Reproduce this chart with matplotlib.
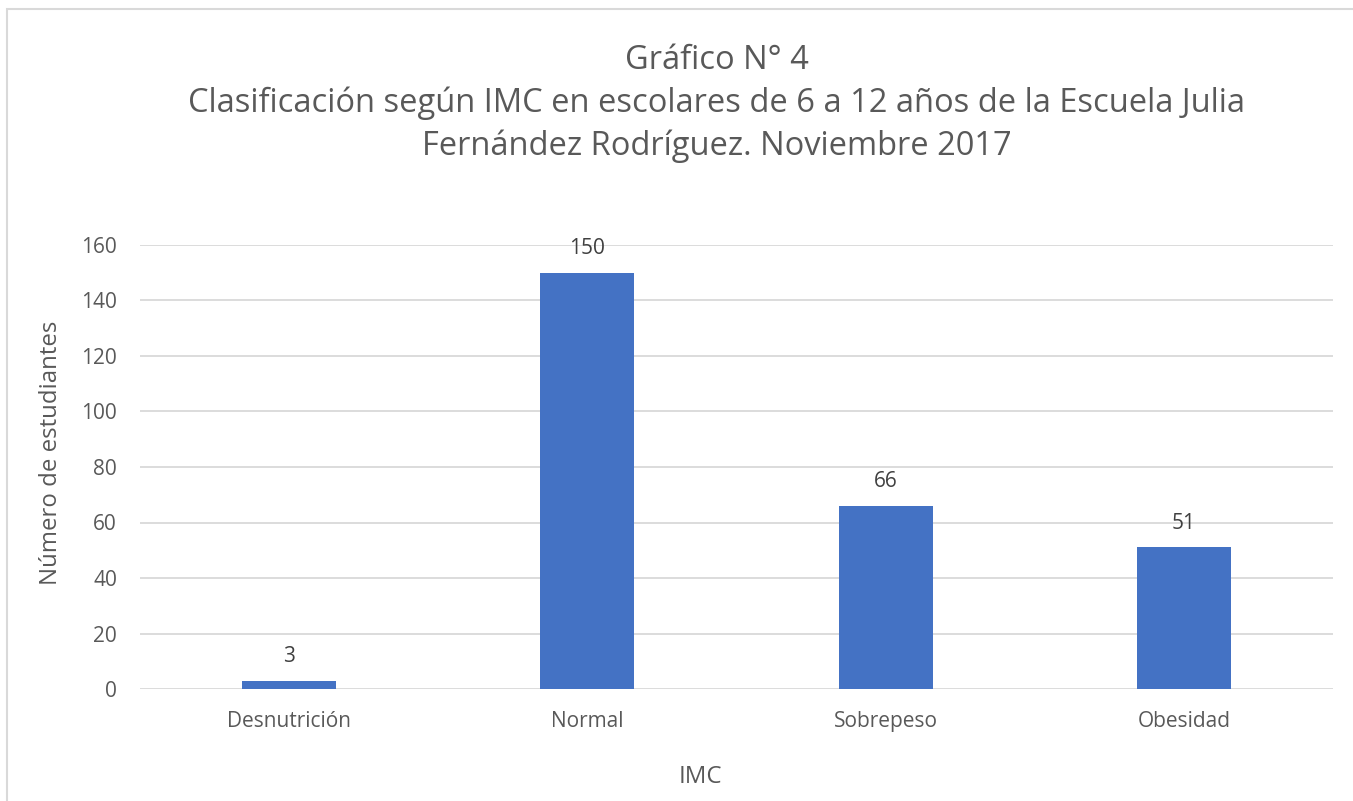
import matplotlib
matplotlib.use("Agg")
import matplotlib.pyplot as plt
from matplotlib.patches import Rectangle

categories = ["Desnutrición", "Normal", "Sobrepeso", "Obesidad"]
values = [3, 150, 66, 51]
yticks = [0, 20, 40, 60, 80, 100, 120, 140, 160]
title_lines = ["Gráfico N° 4",
               "Clasificación según IMC en escolares de 6 a 12 años de la Escuela Julia",
               "Fernández Rodríguez. Noviembre 2017"]
ylabel = "Número de estudiantes"
xlabel = "IMC"

plt.rcParams['font.family'] = ['Open Sans', 'DejaVu Sans']
W, H = 1353, 801
fig = plt.figure(figsize=(W/100, H/100), dpi=100)
ax = fig.add_axes([140/W, 1-689/H, (1333-140)/W, (689-245)/H])

txt = "#595959"
ax.bar(range(len(categories)), values, width=0.315, color="#4472C4", zorder=3)
ax.set_xlim(-0.5, len(categories)-0.5)
ax.set_ylim(0, 160)
ax.set_yticks(yticks)
ax.set_xticks(range(len(categories)))
ax.set_xticklabels(categories)
ax.grid(axis='y', color="#d9d9d9", linewidth=1.3, zorder=0)
for s in ax.spines.values():
    s.set_visible(False)
ax.tick_params(axis='both', length=0, labelsize=15, colors=txt)
ax.tick_params(axis='x', pad=16)
ax.tick_params(axis='y', pad=16.5)
for i, v in enumerate(values):
    ax.annotate(str(v), (i, v), xytext=(0, 10), textcoords='offset points',
                ha='center', va='bottom', fontsize=15, color="#404040")

fig.text(51/W, 1-453/H, ylabel, rotation=90, ha='center', va='center', fontsize=17.3, color=txt)
fig.text(700/W, 1-777/H, xlabel, ha='center', va='center', fontsize=17.3, color=txt)
for line, yb in zip(title_lines, [69, 112, 155]):
    fig.text(717/W, 1-yb/H, line, ha='center', va='baseline', fontsize=23.5, color=txt)

fig.add_artist(Rectangle((7/W, -0.1), 1.2, 1 - 9/H + 0.1, transform=fig.transFigure,
                         fill=False, edgecolor="#d9d9d9", linewidth=1.5))
fig.savefig("out.png", dpi=100)
